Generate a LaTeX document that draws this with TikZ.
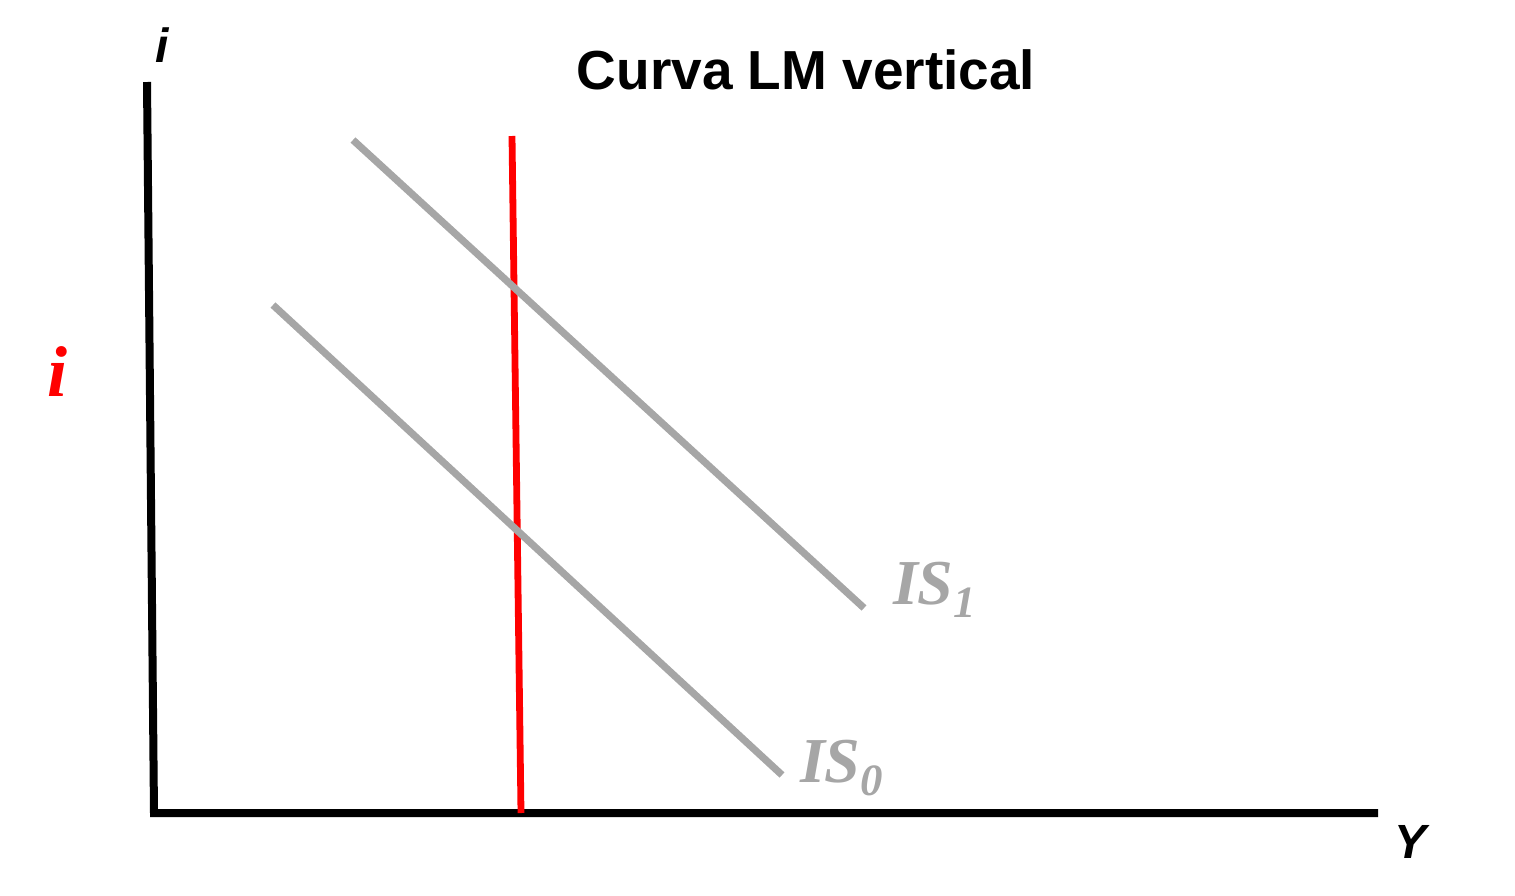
\documentclass[tikz,border=0pt]{standalone}
\usepackage{fontspec}
\setmainfont{Liberation Serif}
\setsansfont{Liberation Sans}
\usepackage{tikz}
\usetikzlibrary{positioning}
\definecolor{isgray}{RGB}{166,166,166}
\definecolor{lmred}{RGB}{255,0,0}

\begin{document}
\begin{tikzpicture}[x=0.5pt,y=-0.5pt,
  axis/.style={line width=4pt,black},
  iscurve/.style={line width=3.6pt,isgray},
  lmcurve/.style={line width=3.4pt,lmred},
  islabel/.style={font=\fontsize{32}{32}\selectfont\bfseries\itshape,text=isgray,inner sep=0pt},
  axlabel/.style={font=\fontsize{24}{24}\selectfont\sffamily\bfseries\itshape,inner sep=0pt}]
\useasboundingbox (0,0) rectangle (1515,895);
% axes
\coordinate (top) at (147,82);
\coordinate (o) at (154,813);
\coordinate (right) at (1378,813);
\draw[axis] (top)--(o)--(right);
\node[axlabel] (ilab) at (162,45) {i};
\node[axlabel] (ylab) at (1410,842) {Y};
% title
\node[font=\fontsize{27.5}{27.5}\selectfont\sffamily\bfseries,inner sep=0pt] (title) at (806,70) {Curva LM vertical};
% LM
\coordinate (lmtop) at (512,136);
\coordinate (lmbot) at (521,813);
\draw[lmcurve] (lmtop)--(lmbot);
\node[font=\fontsize{36}{36}\selectfont\bfseries\itshape,text=lmred,inner sep=0pt] (ired) at (58,372) {i};
% IS curves
\coordinate (is1a) at (353,140);
\coordinate (is1b) at (864,608);
\coordinate (is0a) at (273,305);
\coordinate (is0b) at (782,775);
\draw[iscurve] (is1a)--(is1b);
\draw[iscurve] (is0a)--(is0b);
\node[islabel] (is1) at (935,590) {IS\textsubscript{1}};
\node[islabel] (is0) at (842,768) {IS\textsubscript{0}};
\end{tikzpicture}
\end{document}
